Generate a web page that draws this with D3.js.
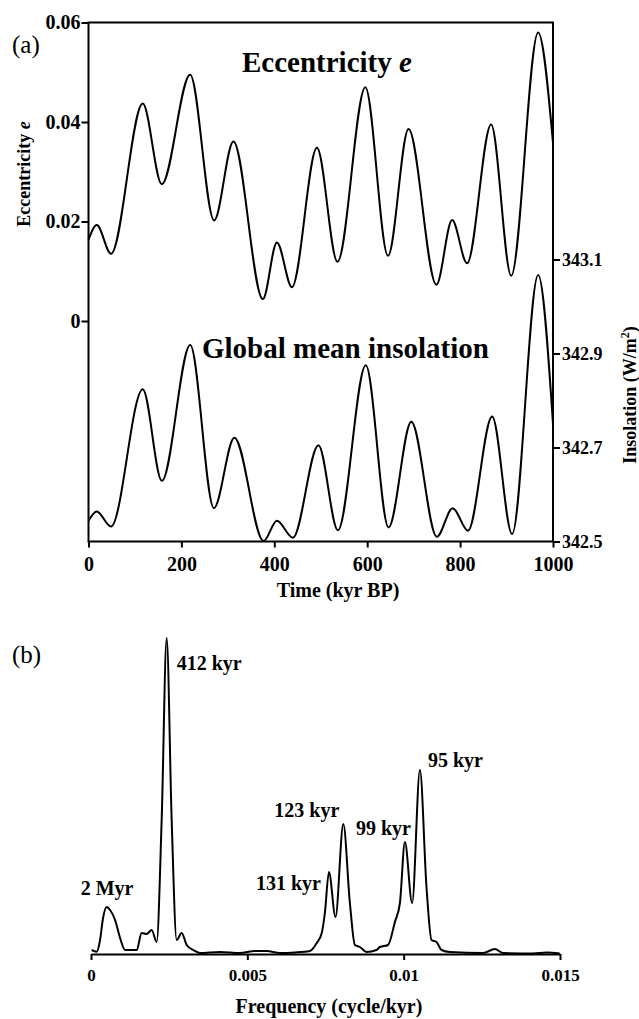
<!DOCTYPE html>
<html>
<head>
<meta charset="utf-8">
<script src="https://cdn.jsdelivr.net/npm/d3@7"></script>
<style>
  body { margin: 0; background: #fff; }
  svg, svg text { font-family: "Liberation Serif", "Times New Roman", serif; }
  .axis path, .axis line { stroke: #000; stroke-width: 2; }
  .axis text { font-weight: bold; fill: #000; }
  .curve { fill: none; stroke: #000; stroke-width: 2; }
</style>
</head>
<body>
<div id="chart"></div>
<script>
// (a) eccentricity over the last 1000 kyr (values at extrema)
const eccTime  = [0, 17.7, 48.5, 116.8, 157.8, 218.8, 270.5, 312, 375.4, 405.6, 438, 491.8, 536, 596, 644.8, 689, 749, 782.8, 815, 866.8, 910, 968, 1000];
const eccValue = [0.0163, 0.0193, 0.0135, 0.0437, 0.0275, 0.0495, 0.0202, 0.0361, 0.0044, 0.0158, 0.0068, 0.0348, 0.0119, 0.0470, 0.0131, 0.0386, 0.0073, 0.0203, 0.0116, 0.0395, 0.0091, 0.0580, 0.0358];

// (a) global mean insolation (W/m2)
const insTime  = [0, 17.7, 48.5, 116.8, 158, 219, 270, 314, 377, 405.6, 440, 495, 537, 597, 646, 695, 750, 784, 817, 869, 912, 968, 1000];
const insValue = [342.544, 342.564, 342.532, 342.824, 342.629, 342.918, 342.571, 342.721, 342.501, 342.544, 342.508, 342.705, 342.524, 342.875, 342.530, 342.755, 342.510, 342.571, 342.523, 342.766, 342.516, 343.067, 342.75];

// (b) spectrum of eccentricity (arbitrary power units)
const specFreq  = [0.00002, 0.00018, 0.00029, 0.00038, 0.0005, 0.00061, 0.00077, 0.00093, 0.00109, 0.0013, 0.00146, 0.00162, 0.00178, 0.00194, 0.0021, 0.00226, 0.00242, 0.00258, 0.00274, 0.0029, 0.00306, 0.00327, 0.00348, 0.00412, 0.00476, 0.00524, 0.00562, 0.00604, 0.00652, 0.0070, 0.00722, 0.00738, 0.00748, 0.00761, 0.00782, 0.00807, 0.00828, 0.00844, 0.0086, 0.00881, 0.00913, 0.00924, 0.0095, 0.00972, 0.00988, 0.01004, 0.01027, 0.01052, 0.01073, 0.01089, 0.01105, 0.01121, 0.01148, 0.01254, 0.01292, 0.01317, 0.01413, 0.01457, 0.01499];
const specPower = [4, 2.3, 14, 35, 47, 44, 34, 16, 4, 4, 4, 21, 20, 24, 12, 134, 316, 134, 14, 21, 9, 4, 1, 2, 1, 3, 3, 1, 1.5, 3, 11, 21, 41, 82, 37, 130, 51, 9, 7, 2, 4, 7, 9, 32, 51, 112, 51, 184, 67, 14, 12, 4, 2, 1, 5, 1, 0.5, 1.5, 0.5];

const peakLabels = [
  {text: '412 kyr', dx: 10, dy: 32},
  {text: '2 Myr', dx: -26, dy: -12},
  {text: '131 kyr', dx: -73, dy: 18},
  {text: '123 kyr', dx: -69, dy: -7},
  {text: '99 kyr', dx: -49, dy: -7},
  {text: '95 kyr', dx: 8, dy: -3}
];
const peakFreq = [0.00242, 0.0005, 0.00761, 0.00807, 0.01004, 0.01052];

const width = 639, height = 1019;
const serif = '"Liberation Serif", "Times New Roman", serif';
const svg = d3.select('#chart').append('svg')
    .attr('width', width)
    .attr('height', height);

// ---------- panel (a) ----------
const a = {left: 88.5, right: 553, top: 22.5, bottom: 541.5};

const x = d3.scaleLinear().domain([0, 1000]).range([a.left, a.right]);
const yEcc = d3.scaleLinear().domain([0, 0.06]).range([321, a.top]);
const yIns = d3.scaleLinear().domain([342.5, 343.1]).range([a.bottom, 259.5]);

svg.append('rect')
    .attr('x', a.left).attr('y', a.top)
    .attr('width', a.right - a.left).attr('height', a.bottom - a.top)
    .attr('fill', 'none').attr('stroke', '#000').attr('stroke-width', 2);

svg.append('g')
    .attr('class', 'axis')
    .attr('transform', `translate(0,${a.bottom})`)
    .call(d3.axisBottom(x).tickValues([0, 200, 400, 600, 800, 1000]).tickFormat(d3.format('d')).tickSize(6).tickPadding(9).tickSizeOuter(0))
    .attr('font-family', serif).attr('font-size', 20)
    .call(g => g.select('.domain').remove());

svg.append('g')
    .attr('class', 'axis')
    .attr('transform', `translate(${a.left},0)`)
    .call(d3.axisLeft(yEcc).tickValues([0, 0.02, 0.04, 0.06]).tickFormat(d => d === 0 ? '0' : d3.format('.2f')(d)).tickSize(7).tickPadding(1).tickSizeOuter(0))
    .attr('font-family', serif).attr('font-size', 20)
    .call(g => g.select('.domain').remove());

svg.append('g')
    .attr('class', 'axis')
    .attr('transform', `translate(${a.right},0)`)
    .call(d3.axisRight(yIns).tickValues([342.5, 342.7, 342.9, 343.1]).tickFormat(d3.format('.1f')).tickSize(7).tickPadding(2).tickSizeOuter(0))
    .attr('font-family', serif).attr('font-size', 18)
    .call(g => g.select('.domain').remove());

const eccLine = d3.line()
    .x((d, i) => x(eccTime[i]))
    .y(d => yEcc(d))
    .curve(d3.curveMonotoneX);

const insLine = d3.line()
    .x((d, i) => x(insTime[i]))
    .y(d => yIns(d))
    .curve(d3.curveMonotoneX);

svg.append('path').attr('class', 'curve').attr('d', eccLine(eccValue));
svg.append('path').attr('class', 'curve').attr('d', insLine(insValue));

const t1 = svg.append('text')
    .attr('x', 242).attr('y', 72)
    .style('font-size', '29px').style('font-weight', 'bold');
t1.append('tspan').text('Eccentricity ');
t1.append('tspan').style('font-style', 'italic').text('e');

svg.append('text')
    .attr('x', 202).attr('y', 358)
    .style('font-size', '29px').style('font-weight', 'bold')
    .text('Global mean insolation');

const yl = svg.append('text')
    .attr('transform', 'translate(30,174) rotate(-90)')
    .attr('text-anchor', 'middle')
    .style('font-size', '18px').style('font-weight', 'bold');
yl.append('tspan').text('Eccentricity ');
yl.append('tspan').style('font-style', 'italic').text('e');

const yr = svg.append('text')
    .attr('transform', 'translate(636,395) rotate(-90)')
    .attr('text-anchor', 'middle')
    .style('font-size', '18px').style('font-weight', 'bold');
yr.append('tspan').text('Insolation (W/m');
yr.append('tspan').attr('dy', -7).style('font-size', '12px').text('2');
yr.append('tspan').attr('dy', 7).text(')');

svg.append('text')
    .attr('x', 338).attr('y', 597)
    .attr('text-anchor', 'middle')
    .style('font-size', '20px').style('font-weight', 'bold')
    .text('Time (kyr BP)');

svg.append('text')
    .attr('x', 12).attr('y', 53)
    .style('font-size', '25px')
    .text('(a)');

// ---------- panel (b) ----------
const b = {left: 91, right: 560, base: 954};

const xf = d3.scaleLinear().domain([0, 0.015]).range([b.left, b.right]);
const yp = d3.scaleLinear().domain([0, 316]).range([b.base, 638]);

svg.append('g')
    .attr('class', 'axis')
    .attr('transform', `translate(0,${b.base})`)
    .call(d3.axisBottom(xf).tickValues([0, 0.005, 0.01, 0.015]).tickFormat(d => d === 0 ? '0' : String(+d.toFixed(3))).tickSize(6).tickPadding(9).tickSizeOuter(0))
    .attr('font-family', serif).attr('font-size', 17);

const specLine = d3.line()
    .x((d, i) => xf(specFreq[i]))
    .y(d => yp(d))
    .curve(d3.curveMonotoneX);

svg.append('path').attr('class', 'curve').attr('d', specLine(specPower));

svg.selectAll('.peak-label')
    .data(peakLabels)
  .join('text')
    .attr('class', 'peak-label')
    .attr('x', (d, i) => xf(peakFreq[i]) + d.dx)
    .attr('y', (d, i) => yp(specPower[specFreq.indexOf(peakFreq[i])]) + d.dy)
    .style('font-size', '20px').style('font-weight', 'bold')
    .text(d => d.text);

svg.append('text')
    .attr('x', 329).attr('y', 1013)
    .attr('text-anchor', 'middle')
    .style('font-size', '20px').style('font-weight', 'bold')
    .text('Frequency (cycle/kyr)');

svg.append('text')
    .attr('x', 12).attr('y', 663)
    .style('font-size', '25px')
    .text('(b)');
</script>
</body>
</html>
